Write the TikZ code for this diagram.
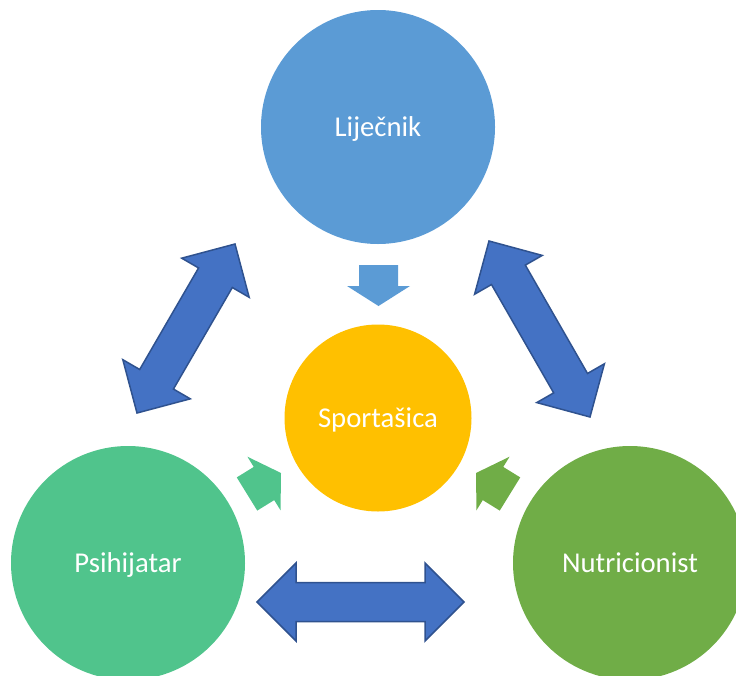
\documentclass[tikz,border=0pt]{standalone}
\usepackage{fontspec}
\setmainfont{Carlito}
\usetikzlibrary{calc}
\definecolor{ljblue}{RGB}{91,155,213}
\definecolor{spgold}{RGB}{255,192,0}
\definecolor{psteal}{RGB}{80,196,140}
\definecolor{nugreen}{RGB}{112,173,71}
\definecolor{arrblue}{RGB}{68,114,196}
\definecolor{arrline}{RGB}{47,82,143}

% double block arrow between two tips
\newcommand{\dblarrow}[2]{%
  \draw[dblarrow] (#1)
    -- ($(#1)!39pt!(#2)!39pt!90:(#2)$)
    -- ($(#1)!39pt!(#2)!19.5pt!90:(#2)$)
    -- ($(#2)!39pt!(#1)!19.5pt!-90:(#1)$)
    -- ($(#2)!39pt!(#1)!39pt!-90:(#1)$)
    -- (#2)
    -- ($(#2)!39pt!(#1)!39pt!90:(#1)$)
    -- ($(#2)!39pt!(#1)!19.5pt!90:(#1)$)
    -- ($(#1)!39pt!(#2)!19.5pt!-90:(#2)$)
    -- ($(#1)!39pt!(#2)!39pt!-90:(#2)$)
    -- cycle;}
% small block arrow from back to tip
\newcommand{\smallarrow}[3]{%
  \fill[#3] (#2)
    -- ($(#2)!20pt!(#1)!31.5pt!90:(#1)$)
    -- ($(#2)!20pt!(#1)!19.5pt!90:(#1)$)
    -- ($(#1)!19.5pt!-90:(#2)$)
    -- ($(#1)!19.5pt!90:(#2)$)
    -- ($(#2)!20pt!(#1)!19.5pt!-90:(#1)$)
    -- ($(#2)!20pt!(#1)!31.5pt!-90:(#1)$)
    -- cycle;}

\begin{document}
\begin{tikzpicture}[x=1pt,y=-1pt]
\tikzset{role/.style = {shape=circle,minimum size=234pt,inner sep=0pt,text=white,
  font=\fontsize{28.7}{34}\selectfont,text height=18.5pt,text depth=0pt}}
\tikzset{dblarrow/.style = {fill=arrblue,draw=arrline,line width=1.5pt,line join=miter}}
\useasboundingbox (0,0) rectangle (736,675);

% circles
\node[role,fill=ljblue] (lij) at (378,127) {Liječnik};
\node[role,fill=spgold,minimum size=187pt] (spo) at (378,418) {Sportašica};
\node[role,fill=psteal] (psi) at (128,563) {Psihijatar};
\node[role,fill=nugreen] (nut) at (630,563) {Nutricionist};

% tips of the arrows
\coordinate (lpA) at (235,244);
\coordinate (lpB) at (137,413);
\coordinate (lnA) at (489,241);
\coordinate (lnB) at (590,417);
\coordinate (pnA) at (257,602);
\coordinate (pnB) at (464,602);
\coordinate (lsA) at (378.5,265);
\coordinate (lsB) at (378.5,306);
\coordinate (psA) at (247,494);
\coordinate (psB) at (281,473);
\coordinate (nsA) at (510,494);
\coordinate (nsB) at (476,473);

% arrows
\dblarrow{lpA}{lpB}
\dblarrow{lnA}{lnB}
\dblarrow{pnA}{pnB}
\smallarrow{lsA}{lsB}{ljblue}
\smallarrow{psA}{psB}{psteal}
\smallarrow{nsA}{nsB}{nugreen}

\end{tikzpicture}
\end{document}
